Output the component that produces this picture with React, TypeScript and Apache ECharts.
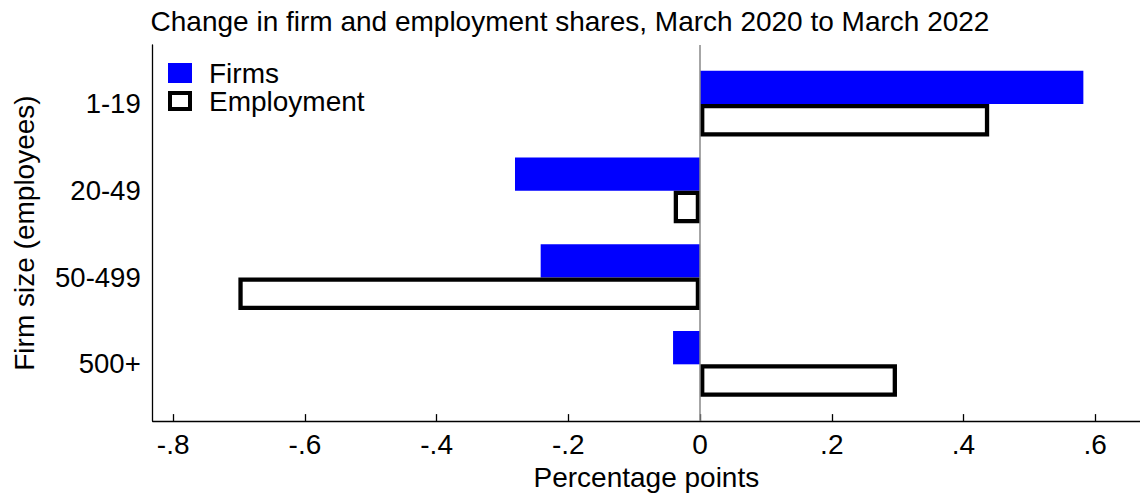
import React, { useEffect, useRef } from 'react';
import * as echarts from 'echarts';

const categories = ['1-19', '20-49', '50-499', '500+'];
const firms = [0.582, -0.281, -0.242, -0.041];
const employment = [0.439, -0.04, -0.701, 0.299];
const xTicks = [-0.8, -0.6, -0.4, -0.2, 0, 0.2, 0.4, 0.6];
const xMin = -0.8311;
const xMax = 0.668;

const FONT = "'Liberation Sans', Arial, Helvetica, sans-serif";

const fmt = (v: number): string => {
  if (Math.abs(v) < 1e-9) return '0';
  const s = String(Math.round(v * 10) / 10);
  return s.replace('0.', '.');
};

export default function App() {
  const ref = useRef<HTMLDivElement>(null);
  useEffect(() => {
    if (!ref.current) return;
    const chart = echarts.init(ref.current, undefined, { renderer: 'svg' });
    const axisText = { fontFamily: FONT, fontSize: 28, color: '#000' };
    chart.setOption({
      animation: false,
      backgroundColor: '#fff',
      textStyle: { fontFamily: FONT },
      title: {
        text: 'Change in firm and employment shares, March 2020 to March 2022',
        left: 'center',
        top: 2,
        textStyle: { fontFamily: FONT, fontSize: 28, fontWeight: 'normal', color: '#000' },
      },
      legend: {
        orient: 'vertical',
        left: 163,
        top: 54,
        itemWidth: 24,
        itemHeight: 20,
        itemGap: 0,
        formatter: '{a|{name}}',
        textStyle: {
          fontFamily: FONT,
          fontSize: 28,
          color: '#000',
          rich: { a: { fontFamily: FONT, fontSize: 28, color: '#000', padding: [0, 0, 0, 12] } },
        },
        data: [
          { name: 'Firms', icon: 'rect' },
          {
            name: 'Employment',
            icon: 'path://M0,0H24V20H0Z M4,4V16H20V4Z',
            itemStyle: { color: '#000', borderWidth: 0 },
          },
        ],
      },
      grid: [
        { left: 152.7, right: 0, top: 60.2, height: 347.1 },
        { left: 152.7, right: 0, top: 45, bottom: 72.7 },
      ],
      xAxis: [
        { type: 'value', gridIndex: 0, min: xMin, max: xMax, show: false },
        {
          type: 'value',
          gridIndex: 1,
          min: xMin,
          max: xMax,
          axisLine: { show: true, onZero: false, lineStyle: { color: '#000', width: 1.3 } },
          axisTick: {
            show: true,
            inside: true,
            length: 7,
            customValues: xTicks,
            lineStyle: { color: '#000', width: 1.3 },
          },
          axisLabel: { customValues: xTicks, formatter: fmt, margin: 9, ...axisText },
          splitLine: { show: false },
          name: 'Percentage points',
          nameLocation: 'middle',
          nameGap: 37,
          nameTextStyle: axisText,
        },
      ],
      yAxis: [
        {
          type: 'category',
          gridIndex: 0,
          data: categories,
          inverse: true,
          axisLine: { show: false },
          axisTick: { show: false },
          axisLabel: { margin: 12, ...axisText, fontSize: 27.5 },
        },
        {
          type: 'value',
          gridIndex: 1,
          min: 0,
          max: 1,
          axisLine: { show: true, onZero: false, lineStyle: { color: '#000', width: 1.3 } },
          axisTick: { show: false },
          axisLabel: { show: false },
          splitLine: { show: false },
          name: 'Firm size (employees)',
          nameLocation: 'middle',
          nameGap: 114,
          nameRotate: 90,
          nameTextStyle: axisText,
        },
      ],
      series: [
        {
          name: 'Firms',
          type: 'bar',
          xAxisIndex: 0,
          yAxisIndex: 0,
          data: firms,
          barWidth: 33.3,
          barGap: 0,
          itemStyle: { color: '#0000ff' },
        },
        {
          name: 'Employment',
          type: 'bar',
          xAxisIndex: 0,
          yAxisIndex: 0,
          data: employment,
          barWidth: 32.5,
          barGap: 0,
          itemStyle: { color: '#ffffff', borderColor: '#000', borderWidth: 4.3 },
        },
        {
          type: 'line',
          xAxisIndex: 1,
          yAxisIndex: 1,
          data: [],
          markLine: {
            silent: true,
            symbol: 'none',
            label: { show: false },
            lineStyle: { color: '#888', type: 'solid', width: 1.5 },
            data: [{ xAxis: 0 }],
          },
        },
      ],
    });
    return () => chart.dispose();
  }, []);
  return (
    <div
      ref={ref}
      style={{ position: 'fixed', left: 0, top: 0, width: 1140, height: 496, background: '#fff' }}
    />
  );
}
